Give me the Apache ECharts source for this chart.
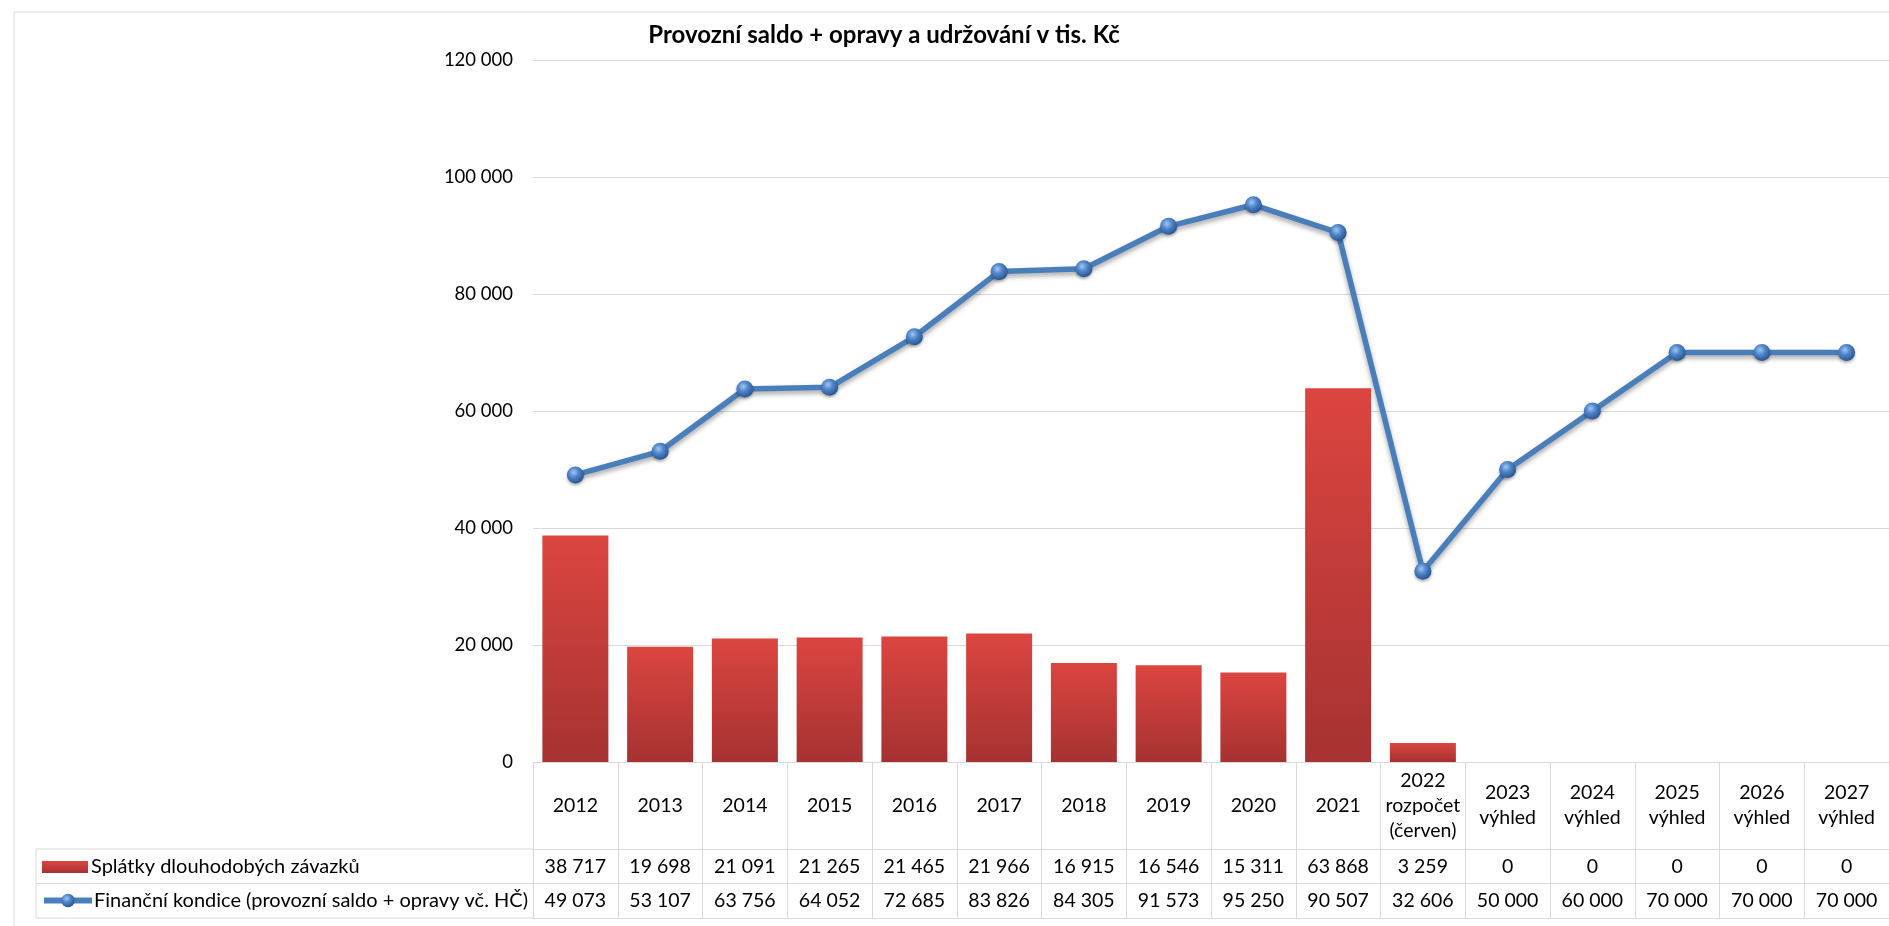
<!DOCTYPE html>
<html>
<head>
<meta charset="utf-8">
<script src="https://cdn.jsdelivr.net/npm/echarts@6/dist/echarts.min.js"></script>
<style>
  html, body { margin: 0; padding: 0; background: #fff; }
  #chart { width: 1889px; height: 926px; }
</style>
</head>
<body>
<div id="chart"></div>
<script>
const categories = [
  "2012", "2013", "2014", "2015", "2016", "2017", "2018", "2019", "2020", "2021",
  "2022\nrozpočet\n(červen)",
  "2023\nvýhled", "2024\nvýhled", "2025\nvýhled", "2026\nvýhled", "2027\nvýhled"
];
const splatkyName = "Splátky dlouhodobých závazků";
const splatky = [38717, 19698, 21091, 21265, 21465, 21966, 16915, 16546, 15311, 63868, 3259, 0, 0, 0, 0, 0];
const kondiceName = "Finanční kondice (provozní saldo + opravy vč. HČ)";
const kondice = [49073, 53107, 63756, 64052, 72685, 83826, 84305, 91573, 95250, 90507, 32606, 50000, 60000, 70000, 70000, 70000];
const yMin = 0;
const yMax = 120000;
const yStep = 20000;

const FONT = "Lato, 'Open Sans', sans-serif";
const GRID_LINE = "#d9d9d9";
const GRID = { left: 533, top: 60, width: 1362, height: 702 };
const ROW_CAT = 87;
const ROW_DATA = 34.5;
const LINE_BLUE = "#4a7ebb";
const TABLE_FONT = 19.5;
const LEGEND_FONT = 20;

function formatThousands(value) {
  return String(value).replace(/\B(?=(\d{3})+(?!\d))/g, "\u00a0");
}

function tableAxis(offset, rowHeight, labelFor) {
  return {
    type: "category",
    data: categories,
    position: "bottom",
    offset: offset,
    axisLine: { show: true, lineStyle: { color: GRID_LINE, width: 1 } },
    axisTick: { show: true, interval: 0, length: rowHeight, lineStyle: { color: GRID_LINE, width: 1 } },
    axisLabel: {
      interval: 0,
      margin: rowHeight / 2,
      verticalAlign: "middle",
      color: "#000",
      fontFamily: FONT,
      fontSize: TABLE_FONT,
      lineHeight: 25,
      formatter: labelFor
    }
  };
}

const chart = echarts.init(document.getElementById("chart"));

const tableTop = GRID.top + GRID.height + ROW_CAT;
const legendLeft = 36;

const markerFill = new echarts.graphic.RadialGradient(0.4, 0.35, 0.65, [
  { offset: 0, color: "#a3c6f0" },
  { offset: 0.45, color: "#4f86cc" },
  { offset: 1, color: "#2a5690" }
]);

chart.setOption({
  animation: false,
  backgroundColor: "#fff",
  title: {
    text: "Provozní saldo + opravy a udržování v tis. Kč",
    left: 879,
    top: 18,
    textAlign: "center",
    textStyle: { fontFamily: FONT, fontSize: 24, fontWeight: "bold", color: "#000" }
  },
  grid: GRID,
  legend: [
    {
      data: [splatkyName],
      left: 42,
      top: tableTop + 8,
      padding: 0,
      itemWidth: 46,
      itemHeight: 12,
      icon: "rect",
      textStyle: { fontFamily: FONT, fontSize: LEGEND_FONT, color: "#000", padding: [0, 0, 0, -2] },
      selectedMode: false
    },
    {
      data: [kondiceName],
      left: 41,
      top: tableTop + ROW_DATA + 7,
      padding: 0,
      itemWidth: 48,
      itemHeight: 17,
      lineStyle: { width: 6, color: LINE_BLUE },
      textStyle: { fontFamily: FONT, fontSize: LEGEND_FONT, color: "#000", padding: [0, 0, 0, -3] },
      selectedMode: false
    }
  ],
  xAxis: [
    tableAxis(0, ROW_CAT, (v) => v),
    tableAxis(ROW_CAT, ROW_DATA, (v, i) => formatThousands(splatky[i])),
    tableAxis(ROW_CAT + ROW_DATA, ROW_DATA, (v, i) => formatThousands(kondice[i])),
    {
      type: "category",
      data: categories,
      position: "bottom",
      offset: ROW_CAT + ROW_DATA * 2,
      axisLine: { show: true, lineStyle: { color: GRID_LINE, width: 1 } },
      axisTick: { show: false },
      axisLabel: { show: false }
    }
  ],
  yAxis: {
    type: "value",
    min: yMin,
    max: yMax,
    interval: yStep,
    axisLine: { show: false },
    axisTick: { show: false },
    axisLabel: {
      margin: 20,
      color: "#000",
      fontFamily: FONT,
      fontSize: 18.5,
      formatter: formatThousands
    },
    splitLine: { lineStyle: { color: GRID_LINE, width: 1 } }
  },
  graphic: [
    {
      type: "rect",
      shape: { x: 14, y: 12, width: 1900, height: 940 },
      style: { fill: null, stroke: "#d9d9d9", lineWidth: 1 },
      silent: true,
      z: -1
    },
    {
      type: "group",
      silent: true,
      children: [0, 1, 2].map((row) => ({
        type: "line",
        shape: { x1: legendLeft, y1: tableTop + row * ROW_DATA, x2: GRID.left, y2: tableTop + row * ROW_DATA },
        style: { stroke: GRID_LINE, lineWidth: 1 }
      })).concat([{
        type: "line",
        shape: { x1: legendLeft, y1: tableTop, x2: legendLeft, y2: tableTop + 2 * ROW_DATA },
        style: { stroke: GRID_LINE, lineWidth: 1 }
      }])
    }
  ],
  series: [
    {
      name: splatkyName,
      type: "bar",
      data: splatky,
      barWidth: 66,
      itemStyle: {
        color: new echarts.graphic.LinearGradient(0, 0, 0, 1, [
          { offset: 0, color: "#dc4540" },
          { offset: 1, color: "#a53231" }
        ]),
        borderWidth: 0
      }
    },
    {
      name: kondiceName,
      type: "line",
      data: kondice,
      symbol: "circle",
      symbolSize: 17,
      lineStyle: {
        color: LINE_BLUE,
        width: 5.5,
        shadowColor: "rgba(0,0,0,0.35)",
        shadowBlur: 5,
        shadowOffsetX: 0,
        shadowOffsetY: 3
      },
      itemStyle: {
        color: markerFill,
        borderWidth: 0,
        shadowColor: "rgba(0,0,0,0.3)",
        shadowBlur: 3,
        shadowOffsetY: 2
      },
      z: 3
    }
  ]
});
</script>
</body>
</html>
